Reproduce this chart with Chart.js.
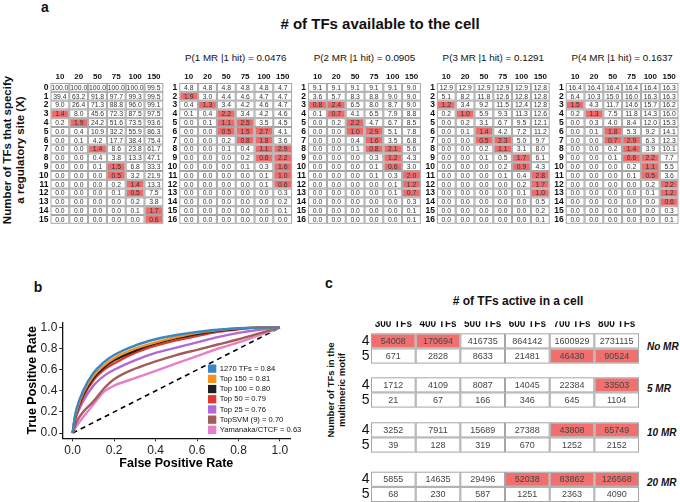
<!DOCTYPE html>
<html>
<head>
<meta charset="utf-8">
<script src="https://cdn.jsdelivr.net/npm/chart.js@4.4.0/dist/chart.umd.min.js"></script>
<style>
  body { margin: 0; width: 680px; height: 502px; position: relative; overflow: hidden; background: #fff;
         font-family: 'Liberation Sans', Arial, sans-serif; color: #111; }
  canvas { position: absolute; }
  .t { position: absolute; white-space: nowrap; line-height: 1; transform: translate(-50%, -50%); }
  .l { position: absolute; white-space: nowrap; line-height: 1; transform: translate(0, -50%); }
  .v { position: absolute; white-space: nowrap; line-height: 1; transform: translate(-50%, -50%) rotate(-90deg); }
  .b { font-weight: bold; }
</style>
</head>
<body>
<div class="t b" style="left:45px;top:7px;font-size:14px">a</div>
<div class="t b" style="left:380px;top:23px;font-size:15px"># of TFs available to the cell</div>
<div class="v b" style="left:8px;top:150px;font-size:11.5px">Number of TFs that specify</div>
<div class="v b" style="left:21px;top:150px;font-size:11.5px">a regulatory site (X)</div>
<div id="mrTitles"></div>

<div class="t b" style="left:38px;top:287px;font-size:14px">b</div>

<div class="t b" style="left:329px;top:283px;font-size:14px">c</div>
<div class="t b" style="left:518px;top:301px;font-size:12px"># of TFs active in a cell</div>
<div class="v b" style="left:331px;top:390px;font-size:9.5px">Number of TFs in the</div>
<div class="v b" style="left:342px;top:390px;font-size:9.5px">multimeric motif</div>
<div id="mrTags"></div>

<canvas id="m0"></canvas><canvas id="m1"></canvas><canvas id="m2"></canvas><canvas id="m3"></canvas><canvas id="m4"></canvas>
<canvas id="roc"></canvas>
<canvas id="c0"></canvas><canvas id="c1"></canvas><canvas id="c2"></canvas><canvas id="c3"></canvas>

<script>
// ---------- panel a ----------
const tfAvailable = ['10', '20', '50', '75', '100', '150'];
const sitesNoMR = ['0','1','2','3','4','5','6','7','8','9','10','11','12','13','14','15'];
const sitesMR = ['1','2','3','4','5','6','7','8','9','10','11','12','13','14','15','16'];
const mrTitles = ['P(1 MR |1 hit) = 0.0476', 'P(2 MR |1 hit) = 0.0905',
                  'P(3 MR |1 hit) = 0.1291', 'P(4 MR |1 hit) = 0.1637'];

const pctNoMR = [
  [100.0, 100.0, 100.0, 100.0, 100.0, 99.5],
  [39.4, 63.2, 91.8, 97.7, 99.3, 99.5],
  [9.0, 26.4, 71.3, 88.8, 96.0, 99.1],
  [1.4, 8.0, 45.6, 72.3, 87.5, 97.5],
  [0.2, 1.9, 24.2, 51.6, 73.5, 93.6],
  [0.0, 0.4, 10.9, 32.2, 55.9, 86.3],
  [0.0, 0.1, 4.2, 17.7, 38.4, 75.4],
  [0.0, 0.0, 1.4, 8.6, 23.8, 61.7],
  [0.0, 0.0, 0.4, 3.8, 13.3, 47.1],
  [0.0, 0.0, 0.1, 1.5, 6.8, 33.3],
  [0.0, 0.0, 0.0, 0.5, 3.2, 21.9],
  [0.0, 0.0, 0.0, 0.2, 1.4, 13.3],
  [0.0, 0.0, 0.0, 0.1, 0.5, 7.5],
  [0.0, 0.0, 0.0, 0.0, 0.2, 3.8],
  [0.0, 0.0, 0.0, 0.0, 0.1, 1.7],
  [0.0, 0.0, 0.0, 0.0, 0.0, 0.6]
];
const pct1MR = [
  [4.8, 4.8, 4.8, 4.8, 4.8, 4.7],
  [1.9, 3.0, 4.4, 4.6, 4.7, 4.7],
  [0.4, 1.3, 3.4, 4.2, 4.6, 4.7],
  [0.1, 0.4, 2.2, 3.4, 4.2, 4.6],
  [0.0, 0.1, 1.1, 2.5, 3.5, 4.5],
  [0.0, 0.0, 0.5, 1.5, 2.7, 4.1],
  [0.0, 0.0, 0.2, 0.8, 1.8, 3.6],
  [0.0, 0.0, 0.1, 0.4, 1.1, 2.9],
  [0.0, 0.0, 0.0, 0.2, 0.6, 2.2],
  [0.0, 0.0, 0.0, 0.1, 0.3, 1.6],
  [0.0, 0.0, 0.0, 0.0, 0.1, 1.0],
  [0.0, 0.0, 0.0, 0.0, 0.1, 0.6],
  [0.0, 0.0, 0.0, 0.0, 0.0, 0.3],
  [0.0, 0.0, 0.0, 0.0, 0.0, 0.2],
  [0.0, 0.0, 0.0, 0.0, 0.0, 0.1],
  [0.0, 0.0, 0.0, 0.0, 0.0, 0.0]
];
const pct2MR = [
  [9.1, 9.1, 9.1, 9.1, 9.1, 9.0],
  [3.6, 5.7, 8.3, 8.8, 9.0, 9.0],
  [0.8, 2.4, 6.5, 8.0, 8.7, 9.0],
  [0.1, 0.7, 4.1, 6.5, 7.9, 8.8],
  [0.0, 0.2, 2.2, 4.7, 6.7, 8.5],
  [0.0, 0.0, 1.0, 2.9, 5.1, 7.8],
  [0.0, 0.0, 0.4, 1.6, 3.5, 6.8],
  [0.0, 0.0, 0.1, 0.8, 2.1, 5.6],
  [0.0, 0.0, 0.0, 0.3, 1.2, 4.3],
  [0.0, 0.0, 0.0, 0.1, 0.6, 3.0],
  [0.0, 0.0, 0.0, 0.1, 0.3, 2.0],
  [0.0, 0.0, 0.0, 0.0, 0.1, 1.2],
  [0.0, 0.0, 0.0, 0.0, 0.1, 0.7],
  [0.0, 0.0, 0.0, 0.0, 0.0, 0.3],
  [0.0, 0.0, 0.0, 0.0, 0.0, 0.1],
  [0.0, 0.0, 0.0, 0.0, 0.0, 0.1]
];
const pct3MR = [
  [12.9, 12.9, 12.9, 12.9, 12.9, 12.8],
  [5.1, 8.2, 11.8, 12.6, 12.8, 12.8],
  [1.2, 3.4, 9.2, 11.5, 12.4, 12.8],
  [0.2, 1.0, 5.9, 9.3, 11.3, 12.6],
  [0.0, 0.2, 3.1, 6.7, 9.5, 12.1],
  [0.0, 0.1, 1.4, 4.2, 7.2, 11.2],
  [0.0, 0.0, 0.5, 2.3, 5.0, 9.7],
  [0.0, 0.0, 0.2, 1.1, 3.1, 8.0],
  [0.0, 0.0, 0.1, 0.5, 1.7, 6.1],
  [0.0, 0.0, 0.0, 0.2, 0.9, 4.3],
  [0.0, 0.0, 0.0, 0.1, 0.4, 2.8],
  [0.0, 0.0, 0.0, 0.0, 0.2, 1.7],
  [0.0, 0.0, 0.0, 0.0, 0.1, 1.0],
  [0.0, 0.0, 0.0, 0.0, 0.0, 0.5],
  [0.0, 0.0, 0.0, 0.0, 0.0, 0.2],
  [0.0, 0.0, 0.0, 0.0, 0.0, 0.1]
];
const pct4MR = [
  [16.4, 16.4, 16.4, 16.4, 16.4, 16.3],
  [6.4, 10.3, 15.0, 16.0, 16.3, 16.3],
  [1.5, 4.3, 11.7, 14.6, 15.7, 16.2],
  [0.2, 1.3, 7.5, 11.8, 14.3, 16.0],
  [0.0, 0.3, 4.0, 8.4, 12.0, 15.3],
  [0.0, 0.1, 1.8, 5.3, 9.2, 14.1],
  [0.0, 0.0, 0.7, 2.9, 6.3, 12.3],
  [0.0, 0.0, 0.2, 1.4, 3.9, 10.1],
  [0.0, 0.0, 0.1, 0.6, 2.2, 7.7],
  [0.0, 0.0, 0.0, 0.2, 1.1, 5.5],
  [0.0, 0.0, 0.0, 0.1, 0.5, 3.6],
  [0.0, 0.0, 0.0, 0.0, 0.2, 2.2],
  [0.0, 0.0, 0.0, 0.0, 0.1, 1.2],
  [0.0, 0.0, 0.0, 0.0, 0.0, 0.6],
  [0.0, 0.0, 0.0, 0.0, 0.0, 0.3],
  [0.0, 0.0, 0.0, 0.0, 0.0, 0.1]
];
// highlighted cells as [row index, column index]
const hotNoMR = [[3,0],[4,1],[7,2],[9,3],[10,3],[11,4],[12,4],[14,5],[15,5]];
const hot1MR = [[1,0],[2,1],[3,2],[4,2],[4,3],[5,2],[5,3],[5,4],[6,3],[6,4],[7,4],[7,5],[8,4],[8,5],[9,5],[10,5],[11,5]];
const hot2MR = [[2,0],[2,1],[3,1],[4,2],[5,2],[5,3],[6,3],[7,3],[7,4],[8,4],[9,4],[10,5],[11,5],[12,5]];
const hot3MR = [[2,0],[3,1],[5,2],[6,2],[6,3],[7,3],[8,4],[9,4],[10,5],[11,5],[12,5]];
const hot4MR = [[2,0],[3,1],[5,2],[6,2],[6,3],[7,3],[8,3],[8,4],[9,4],[10,4],[11,5],[12,5],[13,5]];

// ---------- panel b ----------
const fprGrid = [0, 0.01, 0.02, 0.05, 0.1, 0.15, 0.2, 0.3, 0.4, 0.5, 0.6, 0.7, 0.8, 0.9, 1.0];
const tprAll    = [0, 0.15, 0.24, 0.40, 0.57, 0.67, 0.74, 0.83, 0.89, 0.93, 0.96, 0.98, 0.995, 1, 1];
const tprTop150 = [0, 0.14, 0.22, 0.38, 0.54, 0.64, 0.71, 0.80, 0.86, 0.91, 0.95, 0.975, 0.993, 1, 1];
const tprTop100 = [0, 0.13, 0.21, 0.36, 0.52, 0.62, 0.69, 0.78, 0.85, 0.90, 0.94, 0.97, 0.99, 1, 1];
const tprTop50  = [0, 0.12, 0.19, 0.34, 0.50, 0.60, 0.66, 0.76, 0.83, 0.88, 0.92, 0.96, 0.985, 1, 1];
const tprTop25  = [0, 0.10, 0.17, 0.30, 0.45, 0.54, 0.60, 0.69, 0.76, 0.81, 0.86, 0.91, 0.95, 0.98, 1];
const tprSVM    = [0, 0.06, 0.11, 0.20, 0.30, 0.42, 0.51, 0.61, 0.68, 0.74, 0.79, 0.84, 0.89, 0.945, 1];
const tprYam    = [0, 0.04, 0.07, 0.15, 0.27, 0.39, 0.45, 0.52, 0.59, 0.66, 0.73, 0.80, 0.86, 0.93, 1];
const rocNames  = ['1270 TFs = 0.84', 'Top 150 = 0.81', 'Top 100 = 0.80', 'Top 50 = 0.79',
                   'Top 25 = 0.76', 'TopSVM (9) = 0.70', 'Yamanaka/CTCF = 0.63'];
const rocColors = ['#3a86c2', '#f7921e', '#1f1f1f', '#e0392f', '#b169d9', '#a25e56', '#e77fc9'];
const rocTicks  = [0, 0.2, 0.4, 0.6, 0.8, 1.0];

// ---------- panel c ----------
const tfActive = ['300 TFs', '400 TFs', '500 TFs', '600 TFs', '700 TFs', '800 TFs'];
const motifSizes = ['4', '5'];
const mrTags = ['No MR', '5 MR', '10 MR', '20 MR'];
const countsNoMR = [[54008, 170694, 416735, 864142, 1600929, 2731115], [671, 2828, 8633, 21481, 46430, 90524]];
const counts5MR  = [[1712, 4109, 8087, 14045, 22384, 33503], [21, 67, 166, 346, 645, 1104]];
const counts10MR = [[3252, 7911, 15689, 27388, 43808, 65749], [39, 128, 319, 670, 1252, 2152]];
const counts20MR = [[5855, 14635, 29496, 52038, 83862, 126568], [68, 230, 587, 1251, 2363, 4090]];
const hotCNoMR = [[0,0],[0,1],[1,4],[1,5]];
const hotC5MR  = [[0,5]];
const hotC10MR = [[0,4],[0,5]];
const hotC20MR = [[0,3],[0,4],[0,5]];

// no label overhang padding, so the plot box stays where it is put
function fixBox(s, size) {
  if (s.isHorizontal()) s.height = size; else s.width = size;
  s.paddingTop = s.paddingBottom = s.paddingLeft = s.paddingRight = 0;
}

// a grid of cells drawn on two category axes
function gridChart(id, box, cols, rows, values, hot, st) {
  const cv = document.getElementById(id);
  const gw = cols.length * box.cw, gh = rows.length * box.ch;
  const headH = st.showHead ? st.headH : 0;
  const cl = Math.floor(box.left - st.rowW), ct = Math.floor(box.top - headH - 1);
  const w = Math.ceil(box.left + gw + 1) - cl, h = Math.ceil(box.top + gh + 1) - ct;
  cv.width = w; cv.height = h;
  cv.style.width = w + 'px'; cv.style.height = h + 'px';
  cv.style.left = cl + 'px'; cv.style.top = ct + 'px';
  const isHot = (i, j) => hot.some(([a, b]) => a === i && b === j);

  return new Chart(cv, {
    type: 'bar',
    data: { labels: cols, datasets: [] },
    options: {
      responsive: false,
      animation: false,
      layout: { padding: {
        left: box.left - st.rowW - cl,
        top: box.top - headH - ct,
        right: w - (box.left - cl) - gw,
        bottom: h - (box.top - ct) - gh
      } },
      plugins: { legend: { display: false }, tooltip: { enabled: false } },
      scales: {
        x: {
          type: 'category', labels: cols, position: 'top', offset: true, display: st.showHead,
          grid: { display: false, drawTicks: false }, border: { display: false },
          ticks: { font: st.headFont, color: '#111', padding: st.headPad, maxRotation: 0, autoSkip: false },
          afterFit(s) { fixBox(s, headH); }
        },
        y: {
          type: 'category', labels: rows, offset: true,
          grid: { display: false, drawTicks: false }, border: { display: false },
          ticks: { font: st.rowFont, color: '#111', padding: st.rowPad, autoSkip: false },
          afterFit(s) { fixBox(s, st.rowW); }
        }
      }
    },
    plugins: [{
      id: 'cells',
      afterDraw(chart) {
        const { ctx, scales: { x, y } } = chart;
        const cw = x.width / cols.length, ch = y.height / rows.length;
        ctx.save();
        ctx.font = st.cellFont;
        ctx.textAlign = 'center';
        ctx.textBaseline = 'middle';
        rows.forEach((r, i) => cols.forEach((c, j) => {
          const cx = x.getPixelForValue(j), cy = y.getPixelForValue(i);
          const x0 = cx - cw / 2, y0 = cy - ch / 2;
          ctx.fillStyle = isHot(i, j) ? st.hot : '#fff';
          ctx.fillRect(x0 + 1, y0 + 1, cw - 2, ch - 2);
          ctx.strokeStyle = st.line;
          ctx.lineWidth = 1;
          ctx.strokeRect(x0 + 0.5, y0 + 0.5, cw - 1, ch - 1);
          ctx.fillStyle = st.ink;
          ctx.fillText(st.fmt(values[i][j]), cx, cy + 0.5);
        }));
        ctx.restore();
      }
    }]
  });
}

// panel a matrices
const matStyle = {
  showHead: true, headH: 10, rowW: 14, headPad: 1, rowPad: 2,
  headFont: { size: 8, weight: 'bold' }, rowFont: { size: 8.5, weight: 'bold' },
  cellFont: "6.8px 'Liberation Sans'", ink: '#333', line: '#a6a6a6', hot: '#ef6b6b',
  fmt: v => v.toFixed(1)
};
const matLefts = [50.5, 179.3, 308.1, 436.9, 565.7];
const mats = [[pctNoMR, hotNoMR, sitesNoMR], [pct1MR, hot1MR, sitesMR], [pct2MR, hot2MR, sitesMR],
              [pct3MR, hot3MR, sitesMR], [pct4MR, hot4MR, sitesMR]];
mats.forEach(([vals, hot, rows], k) => {
  gridChart('m' + k, { left: matLefts[k], top: 83, cw: 18.8, ch: 8.8 }, tfAvailable, rows, vals, hot, matStyle);
});
mrTitles.forEach((txt, k) => {
  const d = document.createElement('div');
  d.className = 't';
  d.style.cssText = `left:${matLefts[k + 1] + 56.4}px;top:58px;font-size:9.8px`;
  d.textContent = txt;
  document.getElementById('mrTitles').appendChild(d);
});

// panel b ROC
const rocSeries = [tprAll, tprTop150, tprTop100, tprTop50, tprTop25, tprSVM, tprYam];
const rocCv = document.getElementById('roc');
rocCv.width = 312; rocCv.height = 180;
rocCv.style.cssText = 'left:0px;top:300px;width:312px;height:180px';
const axisStyle = (title, titlePad, size) => ({
  type: 'linear', min: -0.05, max: 1.05,
  afterBuildTicks(s) { s.ticks = rocTicks.map(v => ({ value: v })); },
  ticks: { callback: v => v.toFixed(1), font: { size: 12 }, color: '#222', padding: 2 },
  grid: { drawOnChartArea: false, drawTicks: true, tickLength: 3, color: '#222' },
  border: { color: '#111', width: 1.3 },
  title: { display: true, text: title, font: { size: 12.5, weight: 'bold' }, color: '#000', padding: titlePad },
  afterFit(s) { fixBox(s, size); }
});
new Chart(rocCv, {
  type: 'line',
  data: {
    datasets: rocSeries.map((tpr, i) => ({
      label: rocNames[i],
      data: fprGrid.map((f, j) => ({ x: f, y: tpr[j] })),
      borderColor: rocColors[i], borderWidth: 2.4, pointRadius: 0,
      cubicInterpolationMode: 'monotone', fill: false
    })).concat([{
      label: 'chance', data: [{ x: 0, y: 0 }, { x: 1, y: 1 }],
      borderColor: '#000', borderWidth: 1.6, borderDash: [5, 4], pointRadius: 0, fill: false
    }])
  },
  options: {
    responsive: false, animation: false,
    layout: { padding: { left: 0, top: 22.4, right: 21.7, bottom: 0 } },
    plugins: { legend: { display: false }, tooltip: { enabled: false } },
    scales: {
      x: axisStyle('False Positive Rate', { top: 0, bottom: 9 }, 41.7),
      y: axisStyle('True Positive Rate', { top: 25, bottom: 0 }, 62.3)
    }
  },
  plugins: [{
    id: 'insetLegend',
    afterDatasetsDraw(chart) {
      const { ctx, chartArea: a } = chart;
      ctx.save();
      ctx.font = "7.6px 'Liberation Sans'";
      ctx.textBaseline = 'middle';
      rocNames.forEach((name, i) => {
        const cy = a.top + 46.1 + i * 10.2;
        ctx.fillStyle = rocColors[i];
        ctx.fillRect(a.left + 145.7, cy - 4, 8.3, 8.3);
        ctx.fillStyle = '#111';
        ctx.fillText(name, a.left + 157.5, cy + 0.3);
      });
      ctx.restore();
    }
  }]
});

// panel c tables
const tabStyle = (showHead) => ({
  showHead, headH: 12, rowW: 14, headPad: 3, rowPad: 1.5,
  headFont: { size: 10, weight: 'bold' }, rowFont: { size: 14 },
  cellFont: "9px 'Liberation Sans'", ink: '#444', line: '#a6a6a6', hot: '#f07070',
  fmt: v => String(v)
});
const tabTops = [333.3, 377.3, 422.3, 471.7];
const tagYs = [347, 389, 433, 483];
const tabs = [[countsNoMR, hotCNoMR], [counts5MR, hotC5MR], [counts10MR, hotC10MR], [counts20MR, hotC20MR]];
tabs.forEach(([vals, hot], k) => {
  gridChart('c' + k, { left: 371, top: tabTops[k], cw: 44.67, ch: 15.15 }, tfActive, motifSizes, vals, hot, tabStyle(k === 0));
  const d = document.createElement('div');
  d.className = 'l b';
  d.style.cssText = `left:647px;top:${tagYs[k]}px;font-size:10px;font-style:italic`;
  d.textContent = mrTags[k];
  document.getElementById('mrTags').appendChild(d);
});
</script>
</body>
</html>
